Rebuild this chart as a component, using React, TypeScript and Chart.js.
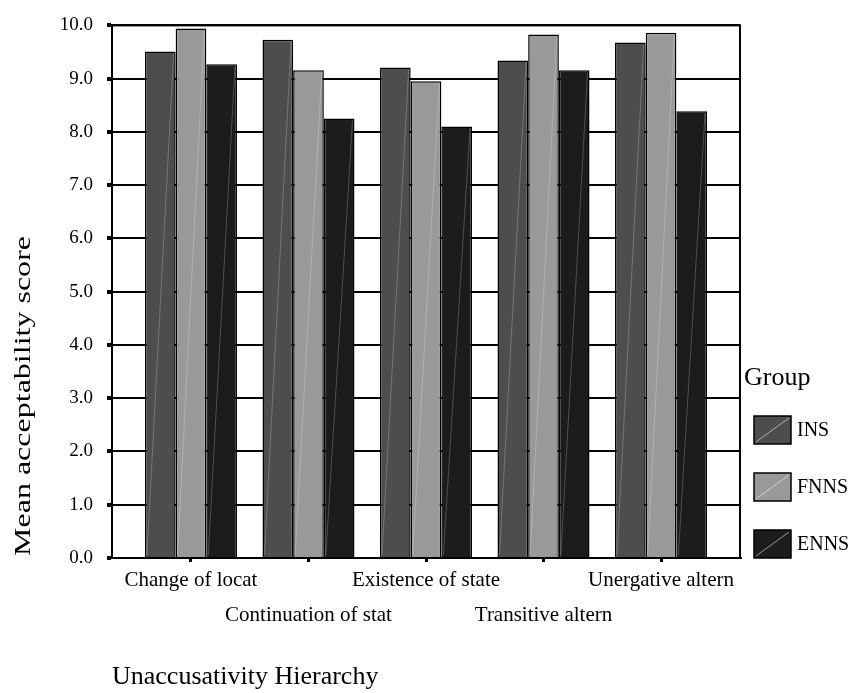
import React, { useEffect, useRef } from "react";
import { Chart, registerables } from "chart.js";

Chart.register(...registerables);

const categories = [
  "Change of locat",
  "Continuation of stat",
  "Existence of state",
  "Transitive altern",
  "Unergative altern",
];
const groupNames = ["INS", "FNNS", "ENNS"];
const insValues = [9.51, 9.73, 9.21, 9.34, 9.68];
const fnnsValues = [9.94, 9.16, 8.95, 9.83, 9.86];
const ennsValues = [9.27, 8.25, 8.1, 9.16, 8.39];
const yTickValues = [0, 1, 2, 3, 4, 5, 6, 7, 8, 9, 10];
const groupColors = ["#4d4d4d", "#999999", "#1c1c1c"];
const yTitle = "Mean acceptability score";

const FONT = "'Liberation Serif', 'Times New Roman', serif";

const barDiagonals = {
  id: "barDiagonals",
  afterDatasetsDraw(chart: any) {
    const ctx = chart.ctx;
    ctx.save();
    ctx.strokeStyle = "rgba(255,255,255,0.22)";
    ctx.lineWidth = 1;
    chart.data.datasets.forEach((_: any, di: number) => {
      chart.getDatasetMeta(di).data.forEach((bar: any) => {
        const p = bar.getProps(["x", "y", "base", "width"], true);
        ctx.beginPath();
        ctx.moveTo(p.x - p.width / 2 + 2, p.base - 2);
        ctx.lineTo(p.x + p.width / 2 - 2, p.y + 2);
        ctx.stroke();
      });
    });
    const a = chart.chartArea;
    ctx.strokeStyle = "#000";
    ctx.lineWidth = 2;
    ctx.strokeRect(a.left, a.top, a.right - a.left, a.bottom - a.top);
    ctx.restore();
  },
};

const yAxisTitle = {
  id: "yAxisTitle",
  afterDraw(chart: any) {
    const ctx = chart.ctx;
    const a = chart.chartArea;
    ctx.save();
    ctx.font = `23px ${FONT}`;
    ctx.fillStyle = "#000";
    ctx.textAlign = "left";
    ctx.textBaseline = "middle";
    const w = ctx.measureText(yTitle).width;
    const targetLen = 320;
    ctx.translate(24, a.bottom - 2);
    ctx.rotate(-Math.PI / 2);
    ctx.scale(targetLen / w, 1);
    ctx.fillText(yTitle, 0, 0);
    ctx.restore();
  },
};

const sideLegend = {
  id: "sideLegend",
  afterDraw(chart: any) {
    const ctx = chart.ctx;
    const a = chart.chartArea;
    const boxW = 37;
    const boxH = 28;
    const step = 57;
    const boxX = a.right + 14;
    const n = chart.data.datasets.length;
    ctx.save();
    ctx.fillStyle = "#000";
    ctx.font = `26px ${FONT}`;
    ctx.textBaseline = "alphabetic";
    ctx.textAlign = "left";
    ctx.fillText("Group", a.right + 4, a.bottom - boxH - (n - 1) * step - 31);
    chart.data.datasets.forEach((ds: any, i: number) => {
      const top = a.bottom - boxH - (n - 1 - i) * step;
      ctx.fillStyle = ds.backgroundColor;
      ctx.fillRect(boxX, top, boxW, boxH);
      ctx.strokeStyle = "rgba(255,255,255,0.55)";
      ctx.lineWidth = 1;
      ctx.beginPath();
      ctx.moveTo(boxX + 2, top + boxH - 2);
      ctx.lineTo(boxX + boxW - 2, top + 2);
      ctx.stroke();
      ctx.strokeStyle = "#000";
      ctx.lineWidth = 1.5;
      ctx.strokeRect(boxX, top, boxW, boxH);
      ctx.fillStyle = "#000";
      ctx.font = `20px ${FONT}`;
      ctx.textBaseline = "middle";
      ctx.fillText(ds.label, boxX + boxW + 6, top + boxH / 2 + 1);
    });
    ctx.restore();
  },
};

export default function App() {
  const canvasRef = useRef<HTMLCanvasElement | null>(null);

  useEffect(() => {
    if (!canvasRef.current) return;
    const series = [insValues, fnnsValues, ennsValues];
    const chart = new Chart(canvasRef.current, {
      type: "bar",
      data: {
        datasets: groupNames.map((name, gi) => ({
          label: name,
          data: series[gi].map((v, i) => ({ x: i, y: v })),
          backgroundColor: groupColors[gi],
          borderColor: "#000",
          borderWidth: 1.5,
          categoryPercentage: 0.783,
          barPercentage: 1,
        })),
      },
      options: {
        responsive: false,
        animation: false,
        layout: { padding: { top: 21, right: 111, left: 0, bottom: 0 } },
        plugins: {
          legend: { display: false },
          tooltip: { enabled: false },
        },
        scales: {
          x: {
            type: "linear",
            offset: false,
            min: -0.672,
            max: 4.672,
            afterBuildTicks: (s: any) => {
              s.ticks = categories.map((_, i) => ({ value: i }));
            },
            afterFit: (s: any) => {
              s.height = 135;
            },
            grid: {
              offset: false,
              drawOnChartArea: false,
              color: "#000",
              lineWidth: 3,
              tickLength: 4,
              tickColor: "#000",
            },
            border: { display: true, color: "#000", width: 2 },
            ticks: {
              autoSkip: false,
              maxRotation: 0,
              minRotation: 0,
              padding: 1,
              color: "#000",
              font: { family: FONT, size: 21, lineHeight: 1.67 },
              callback: (v: any) => {
                const i = Math.round(Number(v));
                const label = categories[i] ?? "";
                return i % 2 === 0 ? label : ["", label];
              },
            },
            title: {
              display: true,
              text: "Unaccusativity Hierarchy",
              align: "start",
              color: "#000",
              font: { family: FONT, size: 26 },
              padding: 0,
            },
          },
          y: {
            min: 0,
            max: 10,
            afterBuildTicks: (s: any) => {
              s.ticks = yTickValues.map((v) => ({ value: v }));
            },
            afterFit: (s: any) => {
              s.width = 112;
            },
            grid: {
              color: "#000",
              lineWidth: 2,
              tickLength: 5,
              tickWidth: 4,
              tickColor: "#000",
            },
            border: { color: "#000", width: 2 },
            ticks: {
              padding: 14,
              color: "#000",
              font: { family: FONT, size: 19 },
              callback: (v: any) => Number(v).toFixed(1),
            },
            title: { display: false },
          },
        },
      },
      plugins: [barDiagonals, yAxisTitle, sideLegend],
    } as any);
    return () => chart.destroy();
  }, []);

  return (
    <div
      style={{
        position: "fixed",
        left: 0,
        top: 0,
        width: 851,
        height: 693,
        background: "#fff",
      }}
    >
      <canvas ref={canvasRef} width={851} height={693} style={{ display: "block" }} />
    </div>
  );
}
